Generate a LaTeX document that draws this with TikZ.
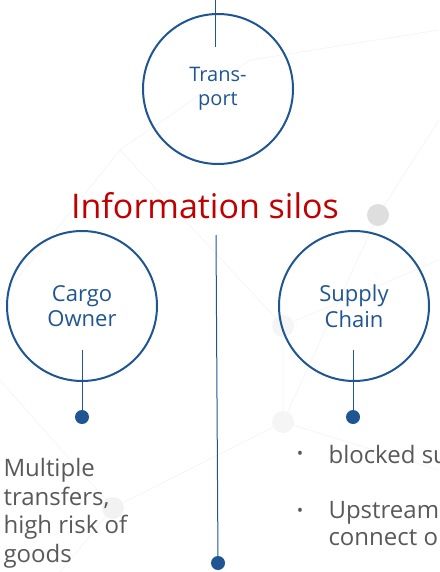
\documentclass[tikz,border=0pt]{standalone}
\usepackage{fontspec}
\setmainfont{Open Sans}
\usetikzlibrary{positioning}
\definecolor{silo blue}{HTML}{1F5592}
\definecolor{silo red}{HTML}{C00000}
\definecolor{silo gray}{HTML}{595959}

\begin{document}
\begin{tikzpicture} [x=1pt, y=-1pt,
        silo/.style = {circle, draw=silo blue, line width=2pt, minimum size=150pt,
                       text=silo blue, align=center, font=\fontsize{22}{25.5}\selectfont},
        pin/.style = {circle, fill=silo blue, inner sep=0pt, minimum size=14pt},
        stem/.style = {draw=silo blue, line width=1pt},
        note/.style = {text=silo gray, align=left, font=\fontsize{24}{28.5}\selectfont},
        haze/.style = {draw=black!4, line width=0.8pt}]
        \useasboundingbox (0,0) rectangle (439,572);
        \clip (0,0) rectangle (439,572);

        % faint backdrop
        \draw [haze] (0,300) -- (120,150) -- (250,60) -- (439,30);
        \draw [haze] (120,150) -- (283,326) -- (439,260);
        \draw [haze] (283,326) -- (283,422) -- (378,215);
        \draw [haze] (0,380) -- (113,508) -- (283,422) -- (439,470);
        \draw [haze] (113,508) -- (60,572);
        \draw [haze] (378,215) -- (439,120);
        \fill [black!13] (378,215) circle (11);
        \fill [black!4] (283,326) circle (11);
        \fill [black!4] (283,422) circle (11);
        \fill [black!5] (113,508) circle (11);

        \node (transport) [silo, font=\fontsize{20}{24}\selectfont] at (218,89) {Trans-\\port};
        \node (title) [text=silo red, font=\fontsize{34}{40}\selectfont] at (205,206) {Information silos};
        \node (cargo) [silo] at (82,306) {Cargo\\Owner};
        \node (supply) [silo] at (354,306) {Supply\\Chain};

        \node (cargodot) [pin] at (82,417) {};
        \node (supplydot) [pin] at (353,417) {};
        \node (middot) [pin] at (218,563) {};
        \coordinate (top) at (215,0);
        \coordinate (topend) at (215,47);
        \coordinate (midtop) at (216,235);

        \path [stem] (top) -- (topend);
        \path [stem] (midtop) -- (middot);
        \path [stem] (cargodot) -- ++(0,-67);
        \path [stem] (supplydot) -- ++(0,-67);

        \node (risk) [note, anchor=north west] at (0,455) {Multiple\\transfers,\\high risk of\\goods};
        \node (bulletone) [text=silo gray, font=\fontsize{17}{17}\selectfont] at (300,455) {•};
        \node (blocked) [note, anchor=base west] at (325,463) {blocked su};
        \node (bullettwo) [text=silo gray, font=\fontsize{17}{17}\selectfont] at (300,512) {•};
        \node (upstream) [note, anchor=north west, font=\fontsize{24}{27}\selectfont] at (325,498) {Upstream\\connect o};
    \end{tikzpicture}
\end{document}
